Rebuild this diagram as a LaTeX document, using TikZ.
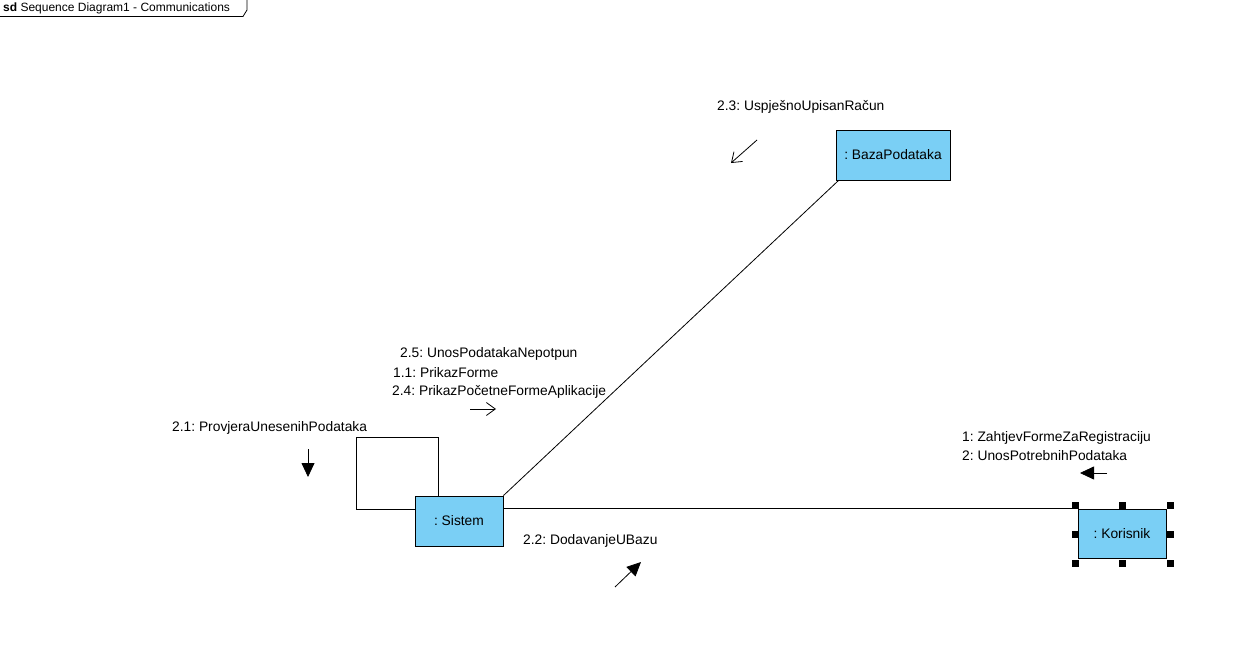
\documentclass[tikz,border=0pt]{standalone}
\usepackage{fontspec}
\setmainfont{Liberation Sans}
\usetikzlibrary{arrows.meta}
\definecolor{objfill}{RGB}{122,207,245}
\frenchspacing
\begin{document}
\begin{tikzpicture}[x=1pt,y=-1pt,
  obj/.style={draw=black,fill=objfill,line width=0.8pt,inner sep=0pt,font=\fontsize{13.8}{15}\selectfont},
  msg/.style={anchor=west,inner sep=0pt,yshift=-1.5pt,font=\fontsize{13.8}{15}\selectfont},
  link/.style={draw=black,line width=0.8pt},
  openarr/.style={line width=0.8pt,-{Straight Barb[length=9pt,width=13pt]}},
  fillarr/.style={line width=0.8pt,-{Triangle[length=14pt,width=13pt]}},
  handle/.style={fill=black}]
  \useasboundingbox (0,0) rectangle (1237,661);
  \fill[white] (0,0) rectangle (1237,661);

  % frame tab
  \draw[line width=0.8pt] (0,16.5) -- (243,16.5) -- (247,10) -- (247,0);
  \node[anchor=west,inner sep=0pt,font=\fontsize{12}{13}\selectfont] (title) at (3,8.5)
    {\textbf{sd} Sequence Diagram1 - Communications};

  % objects
  \node[obj,minimum width=114pt,minimum height=50pt] (baza) at (893,155) {: BazaPodataka};
  \node[obj,minimum width=88pt,minimum height=50pt] (sis) at (459,521) {: Sistem};
  \node[obj,minimum width=88pt,minimum height=49pt] (kor) at (1122,533.5) {: Korisnik};

  % links
  \draw[link] (sis.north east) -- ([xshift=3pt]baza.south west);
  \coordinate (kl) at (kor.north west);
  \draw[link] (sis.east |- kl) -- (kl);
  \draw[link] ([xshift=-21pt]sis.north) -- (438,437) -- (356,437) -- (356,509) -- (sis.west |- 0,509);

  % selection handles
  \foreach \hx in {1075,1122,1170}{
    \foreach \hy in {505,563}{\fill[handle] (\hx-3.5,\hy-3.5) rectangle (\hx+3.5,\hy+3.5);}}
  \foreach \hx in {1075,1170}{\fill[handle] (\hx-3.5,530.5) rectangle (\hx+3.5,537.5);}

  % messages
  \node[msg] (m23) at (717,105) {2.3: UspješnoUpisanRačun};
  \coordinate (a23s) at (757,140); \coordinate (a23e) at (731,163);
  \draw[openarr] (a23s) -- (a23e);

  \node[msg] (m25) at (400,352) {2.5: UnosPodatakaNepotpun};
  \node[msg] (m11) at (393,371.5) {1.1: PrikazForme};
  \node[msg] (m24) at (392,390) {2.4: PrikazPočetneFormeAplikacije};
  \coordinate (a11s) at (470,409); \coordinate (a11e) at (496,409);
  \draw[openarr] (a11s) -- (a11e);

  \node[msg] (m21) at (172,426) {2.1: ProvjeraUnesenihPodataka};
  \coordinate (a21s) at (308,449); \coordinate (a21e) at (308,477);
  \draw[fillarr] (a21s) -- (a21e);

  \node[msg] (m1) at (962,436) {1: ZahtjevFormeZaRegistraciju};
  \node[msg] (m2) at (962,454) {2: UnosPotrebnihPodataka};
  \coordinate (a1s) at (1107,473); \coordinate (a1e) at (1080,473);
  \draw[fillarr] (a1s) -- (a1e);

  \node[msg] (m22) at (523,539) {2.2: DodavanjeUBazu};
  \coordinate (a22s) at (615,587); \coordinate (a22e) at (641,562);
  \draw[fillarr] (a22s) -- (a22e);
\end{tikzpicture}
\end{document}
